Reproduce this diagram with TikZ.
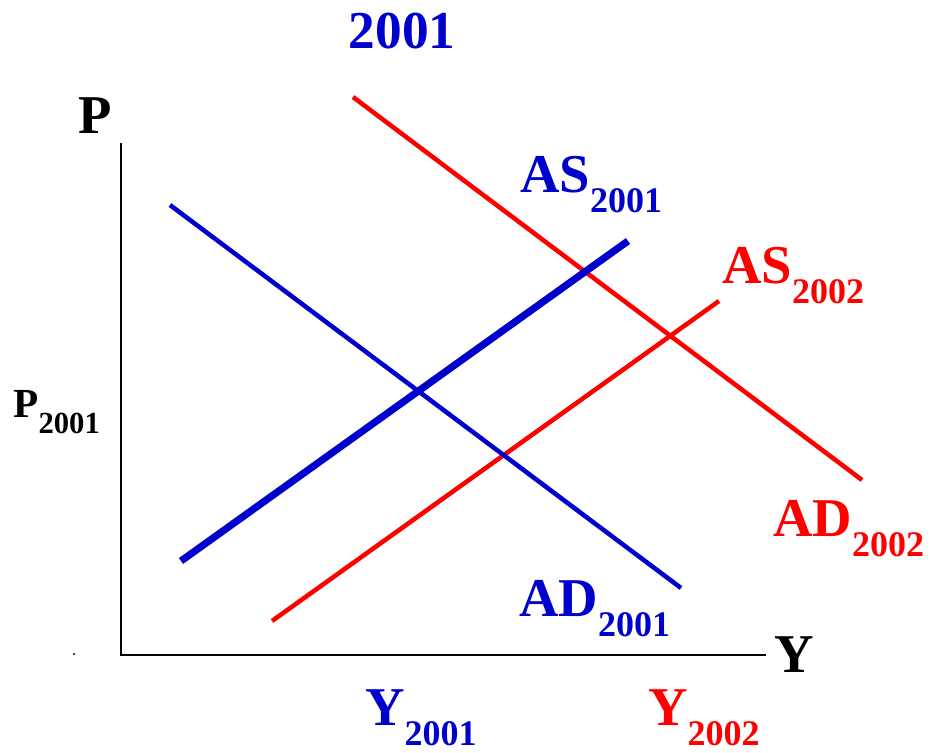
\documentclass[tikz,border=0pt]{standalone}
\usepackage{fontspec}
\setmainfont{Liberation Serif}
\definecolor{myblue}{HTML}{0000CC}
\definecolor{myred}{HTML}{FF0000}
\newcommand{\sublab}[2]{#1\raisebox{-15pt}{\fontsize{27}{27}\selectfont #2}}
\begin{document}
\begin{tikzpicture}[x=0.75pt,y=-0.75pt,
  lab/.style={anchor=base west,inner sep=0pt,font=\fontsize{41}{41}\selectfont\bfseries},
  thinline/.style={line width=3.4pt},
  thickline/.style={line width=5.4pt},
  axis/.style={line width=2.2pt,black}]
\useasboundingbox (0,0) rectangle (940,753);
% axes
\coordinate (o) at (121,655);
\coordinate (ytop) at (121,143);
\coordinate (xend) at (766,655);
\draw[axis] (ytop) -- (o) -- (xend);
\fill (74,654) circle (1.2);
% curve endpoints
\coordinate (ad1a) at (170,205);
\coordinate (ad1b) at (681,588);
\coordinate (as1a) at (181,561);
\coordinate (as1b) at (628,241);
\coordinate (ad2a) at (353,97);
\coordinate (ad2b) at (862,480);
\coordinate (as2a) at (272,621);
\coordinate (as2b) at (719,301);
\draw[thinline,myred] (ad2a) -- (ad2b);
\draw[thinline,myred] (as2a) -- (as2b);
\draw[thinline,myblue] (ad1a) -- (ad1b);
\draw[thickline,myblue] (as1a) -- (as1b);
% labels
\node[lab,myblue,font=\fontsize{40}{40}\selectfont\bfseries,anchor=base] (t) at (402,48) {2001};
\node[lab] (P) at (78,133) {P};
\node[lab] (Y) at (774,672) {Y};
\node[lab,font=\fontsize{31}{31}\selectfont\bfseries] (p1) at (13,417) {P\raisebox{-12pt}{\fontsize{23}{23}\selectfont 2001}};
\node[lab,myblue] (as1) at (520,192) {\sublab{AS}{2001}};
\node[lab,myred] (as2) at (722,283) {\sublab{AS}{2002}};
\node[lab,myred] (ad2) at (773,536) {\sublab{AD}{2002}};
\node[lab,myblue] (ad1) at (519,616) {\sublab{AD}{2001}};
\node[lab,myblue] (y1) at (365,725) {\sublab{Y}{2001}};
\node[lab,myred] (y2) at (648,725) {\sublab{Y}{2002}};
\end{tikzpicture}
\end{document}
